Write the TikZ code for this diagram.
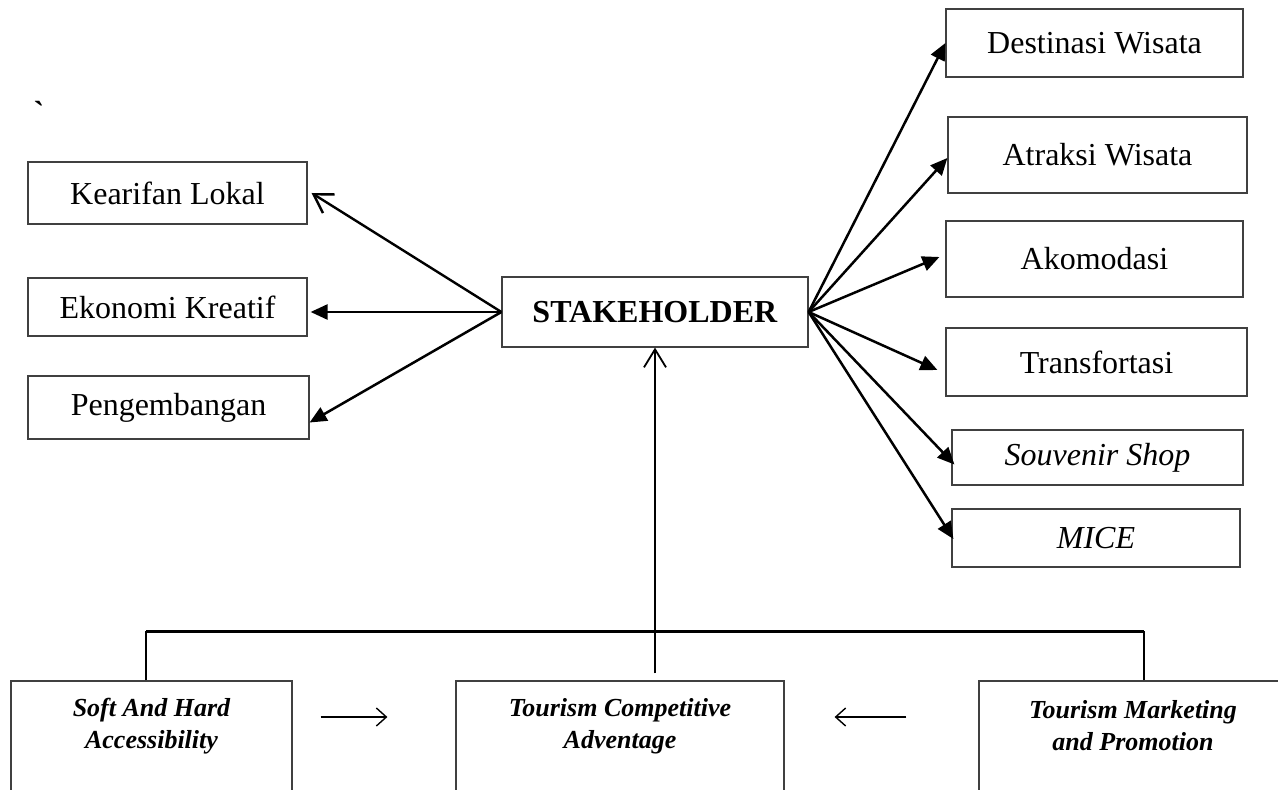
\documentclass[tikz,border=0pt]{standalone}
\usepackage{fontspec}
\setmainfont{Liberation Serif}
\usetikzlibrary{arrows.meta}
\usetikzlibrary{positioning}

\tikzset{
  box/.style={draw=black!75, line width=0.6pt, inner sep=0pt, font=\fontsize{16}{19}\selectfont},
  bottomtext/.style={align=center, inner sep=0pt, font=\fontsize{13}{16}\selectfont\bfseries\itshape},
  filledarrow/.style={line width=1.25pt, -{Triangle[length=8.5pt,width=7.5pt]}},
  openarrow/.style={line width=1.2pt, -{Straight Barb[length=9pt,width=11pt]}},
  thinarrow/.style={line width=0.7pt, -{Straight Barb[length=5pt,width=9pt]}},
}

\begin{document}
\begin{tikzpicture}[x=0.5pt,y=-0.5pt]

            \useasboundingbox (0,0) rectangle (1278,790);
            \clip (0,0) rectangle (1278,790);

            % \draw [help lines] (0,0) grid (1278,790);

            \path   (39,112) node (tick) [font=\fontsize{16}{19}\selectfont\bfseries] {\textasciigrave};

            % left side
            \path   (167.5,193)   node (kearifan) [box,minimum width=139.5pt,minimum height=31pt] {Kearifan Lokal}
                    (167.5,307)   node (ekonomi)  [box,minimum width=139.5pt,minimum height=29pt] {Ekonomi Kreatif}
                    (168.5,407.5) node (pengembangan) [box,minimum width=140.5pt,minimum height=31.5pt] {Pengembangan};

            \path   (655,312) node (stakeholder) [box,minimum width=153pt,minimum height=35pt] {\textbf{STAKEHOLDER}};

            % right side
            \path   (1094.5,43)  node (destinasi)    [box,minimum width=148.5pt,minimum height=34pt] {Destinasi Wisata}
                    (1097.5,155) node (atraksi)      [box,minimum width=149.5pt,minimum height=38pt] {Atraksi Wisata}
                    (1094.5,259) node (akomodasi)    [box,minimum width=148.5pt,minimum height=38pt] {Akomodasi}
                    (1096.5,362) node (transfortasi) [box,minimum width=150.5pt,minimum height=34pt] {Transfortasi}
                    (1097.5,457.5) node (souvenir)   [box,minimum width=145.5pt,minimum height=27.5pt] {\textit{Souvenir Shop}}
                    (1096,538)   node (mice)         [box,minimum width=144pt,minimum height=29pt] {\textit{MICE}};

            % bottom row
            \path   (151.5,755.5) node (softbox) [box,minimum width=140.5pt,minimum height=74.5pt] {}
                    (620,755.5)   node (tcbox)   [box,minimum width=164pt,minimum height=74.5pt] {}
                    (1133,755.5)  node (tmbox)   [box,minimum width=154pt,minimum height=74.5pt] {};

            \path   (151.5,726) node (softtext) [bottomtext] {Soft And Hard\\Accessibility}
                    (620,726)   node (tctext)   [bottomtext] {Tourism Competitive\\Adventage}
                    (1133,726)  node (tmtext)   [bottomtext] {Tourism Marketing\\and Promotion};

            \draw[filledarrow] (stakeholder.west) -- ([xshift=1.5pt]ekonomi.east |- stakeholder.west);
            \draw[filledarrow] (stakeholder.west) -- ([yshift=-7.5pt]pengembangan.east);
            \draw[openarrow]   (stakeholder.west) -- ([xshift=2pt]kearifan.east);

            \draw[filledarrow] (stakeholder.east) -- (destinasi.west);
            \draw[filledarrow] (stakeholder.east) -- ([yshift=-1.5pt]atraksi.west);
            \draw[filledarrow] (stakeholder.east) -- ([xshift=-3pt,yshift=1pt]akomodasi.west);
            \draw[filledarrow] (stakeholder.east) -- ([xshift=-4pt,yshift=-4pt]transfortasi.west);
            \draw[filledarrow] (stakeholder.east) -- ([xshift=1.5pt,yshift=-3.5pt]souvenir.west);
            \draw[filledarrow] (stakeholder.east) -- ([xshift=1pt,yshift=-0.5pt]mice.west);

            % bus above the bottom row
            \draw[line width=0.6pt] ([xshift=-2.75pt]softbox.north) -- ++(0,-49);
            \draw[line width=0.6pt] ([xshift=5.5pt]tmbox.north) -- ++(0,-49);
            \draw[line width=1.2pt] ([xshift=-2.75pt,yshift=24.5pt]softbox.north) -- ([xshift=5.5pt,yshift=24.5pt]tmbox.north);
            \draw[openarrow,line width=0.9pt] ([yshift=3.5pt]tcbox.north -| stakeholder.south) -- (stakeholder.south);

            \draw[thinarrow] ([xshift=14pt,yshift=4.5pt]softbox.north east |- softtext.center) -- ([xshift=-34pt,yshift=4.5pt]tcbox.north west |- tctext.center);
            \draw[thinarrow] ([xshift=-36pt,yshift=4.5pt]tmbox.north west |- tmtext.center) -- ([xshift=25pt,yshift=4.5pt]tcbox.north east |- tctext.center);

\end{tikzpicture}
\end{document}
